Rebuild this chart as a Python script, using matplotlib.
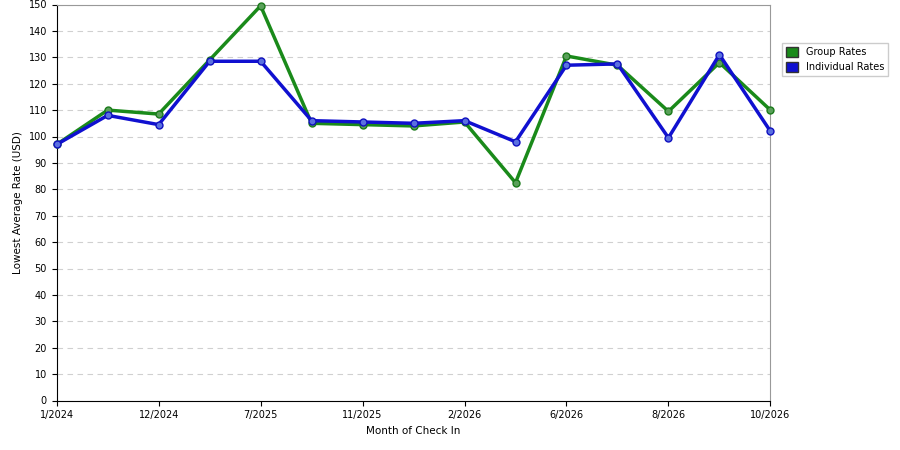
import matplotlib.pyplot as plt
import numpy as np

# monthly lowest average rates
x_labels = ["1/2024", "12/2024", "7/2025", "11/2025", "2/2026", "6/2026", "8/2026", "10/2026"]
group_rates = [97, 110, 108.5, 129, 149.5, 105, 104.5, 104, 105.5, 82.5, 130.5, 127, 109.5, 128, 110]
indiv_rates = [97, 108, 104.5, 128.5, 128.5, 106, 105.5, 105, 106, 98, 127, 127.5, 99.5, 131, 102]

xs = np.arange(len(group_rates))

fig = plt.figure(figsize=(9, 4.5), dpi=100)
ax = fig.add_axes([0.063, 0.11, 0.793, 0.88])

ax.plot(xs, group_rates, color="#1a8a1a", lw=2.5, marker="o", ms=5,
        mfc="#5aa05a", mec="#1a7a1a", label="Group Rates", zorder=3, clip_on=False)
ax.plot(xs, indiv_rates, color="#1010d0", lw=2.5, marker="o", ms=5,
        mfc="#5a70e0", mec="#1010c0", label="Individual Rates", zorder=4, clip_on=False)

ax.set_xlim(0, len(xs) - 1)
ax.set_ylim(0, 150)
ax.set_yticks(range(0, 151, 10))
ax.set_xticks(xs[::2])
ax.set_xticklabels(x_labels)
ax.tick_params(labelsize=7)
ax.grid(axis="y", ls=(0, (5, 4)), color="#d0d0d0", lw=0.8)
ax.set_axisbelow(True)
ax.spines["top"].set_color("#999999")
ax.spines["right"].set_color("#999999")
ax.set_xlabel("Month of Check In", fontsize=7.5)
ax.set_ylabel("Lowest Average Rate (USD)", fontsize=7.5)

fig.legend(loc="upper left", bbox_to_anchor=(0.864, 0.915), fontsize=7,
           handlelength=1.2, handleheight=1.2, frameon=True, fancybox=False,
           edgecolor="#c0c0c0",
           handles=[plt.Rectangle((0, 0), 1, 1, fc="#1a8a1a", ec="#333"),
                    plt.Rectangle((0, 0), 1, 1, fc="#1010d0", ec="#333")],
           labels=["Group Rates", "Individual Rates"])

fig.savefig("out.png")
